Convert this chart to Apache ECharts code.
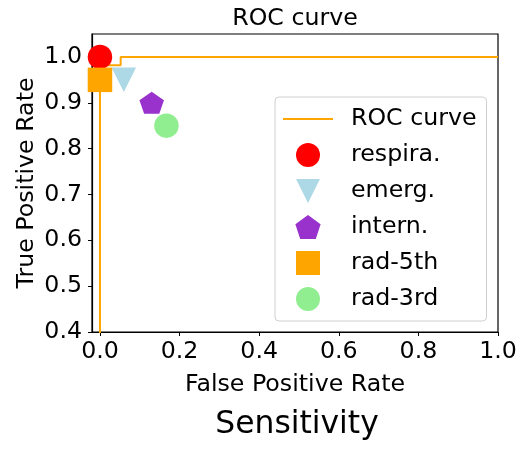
<!DOCTYPE html>
<html>
<head>
<meta charset="utf-8">
<script src="https://cdn.jsdelivr.net/npm/echarts@6/dist/echarts.min.js"></script>
<style>
html,body{margin:0;padding:0;background:#fff;}
#c{width:526px;height:451px;}
</style>
</head>
<body>
<div id="c"></div>
<script>
// ROC curve (step) points
const rocFpr = [0, 0, 0.052, 0.052, 1.0];
const rocTpr = [0, 0.982, 0.982, 1.0, 1.0];
// Reader operating points
const readerNames = ['respira.', 'emerg.', 'intern.', 'rad-5th', 'rad-3rd'];
const readerFpr = [0.0, 0.06, 0.13, 0.0, 0.167];
const readerTpr = [1.0, 0.95, 0.90, 0.95, 0.85];
// Tick labels
const xTicks = [0.0, 0.2, 0.4, 0.6, 0.8, 1.0];
const yTicks = [0.4, 0.5, 0.6, 0.7, 0.8, 0.9, 1.0];

const FONT = 'DejaVu Sans';
const FS = 23.7;
const pentagon = 'path://M0,-1 L0.951,-0.309 L0.588,0.809 L-0.588,0.809 L-0.951,-0.309 Z';
const triDown = 'path://M0,0 L2,0 L1,2 Z';
const square = 'path://M0,0 L1,0 L1,1 L0,1 Z';
const lineIcon = 'path://M0,0 L50,0 L50,2 L0,2 Z';
const readerStyles = [
  {symbol: 'circle', size: 24.5, color: '#ff0000'},
  {symbol: triDown, size: 24.5, color: '#add8e6'},
  {symbol: pentagon, size: [24.5, 23.3], color: '#9932cc'},
  {symbol: square, size: 24.5, color: '#ffa500'},
  {symbol: 'circle', size: 24.5, color: '#90ee90'}
];

const series = [{
  name: 'ROC curve',
  type: 'line',
  data: rocFpr.map((x, i) => [x, rocTpr[i]]),
  symbol: 'none',
  lineStyle: {color: '#ffa500', width: 2},
  itemStyle: {color: '#ffa500'},
  clip: true,
  z: 2
}];
readerNames.forEach((n, i) => {
  const s = readerStyles[i];
  series.push({
    name: n,
    type: 'scatter',
    data: [[readerFpr[i], readerTpr[i]]],
    symbol: s.symbol,
    symbolSize: s.size,
    symbolKeepAspect: true,
    itemStyle: {color: s.color, opacity: 1},
    clip: true,
    z: 3 + i
  });
});

const legendData = [{name: 'ROC curve', icon: lineIcon}].concat(readerNames.map(n => ({name: n})));

const chart = echarts.init(document.getElementById('c'), null, {renderer: 'canvas'});
chart.setOption({
  animation: false,
  backgroundColor: '#fff',
  textStyle: {fontFamily: FONT},
  grid: {left: 92, right: 28, top: 34, bottom: 119, show: true, borderColor: '#000', borderWidth: 1.2, backgroundColor: 'transparent'},
  xAxis: {
    type: 'value', min: -0.02, max: 1.0,
    name: 'False Positive Rate', nameLocation: 'middle', nameGap: 41,
    nameTextStyle: {fontSize: FS, color: '#000', fontFamily: FONT},
    axisLine: {show: true, onZero: false, lineStyle: {color: '#000', width: 1.2}},
    axisTick: {show: true, length: 4, customValues: xTicks, lineStyle: {color: '#000', width: 1}},
    axisLabel: {customValues: xTicks, fontSize: FS, color: '#000', fontFamily: FONT, margin: 8, formatter: v => v.toFixed(1)},
    splitLine: {show: false}
  },
  yAxis: {
    type: 'value', min: 0.4, max: 1.05,
    axisLine: {show: true, onZero: false, lineStyle: {color: '#000', width: 1.2}},
    axisTick: {show: true, length: 4, customValues: yTicks, lineStyle: {color: '#000', width: 1}},
    axisLabel: {customValues: yTicks, fontSize: FS, color: '#000', fontFamily: FONT, margin: 10, formatter: v => v.toFixed(1)},
    splitLine: {show: false}
  },
  legend: {
    left: 275, top: 97,
    orient: 'vertical',
    data: legendData,
    itemWidth: 50, itemHeight: 24, itemGap: 12,
    padding: [10, 10, 10, 8],
    backgroundColor: 'rgba(255,255,255,0.8)',
    borderColor: '#d0d0d0', borderWidth: 1, borderRadius: 4,
    selectedMode: false,
    textStyle: {fontSize: FS, color: '#000', fontFamily: FONT, padding: [0, 0, 0, 13]}
  },
  graphic: [
    {type: 'text', x: 295, y: 19, style: {text: 'ROC curve', font: FS + 'px "DejaVu Sans"', fill: '#000', textAlign: 'center', textVerticalAlign: 'middle'}},
    {type: 'text', x: 27, y: 183, rotation: Math.PI / 2, style: {text: 'True Positive Rate', font: FS + 'px "DejaVu Sans"', fill: '#000', textAlign: 'center', textVerticalAlign: 'middle'}},
    {type: 'text', x: 297, y: 425, style: {text: 'Sensitivity', font: '31.4px "DejaVu Sans"', fill: '#000', textAlign: 'center', textVerticalAlign: 'middle'}}
  ],
  series: series
});
</script>
</body>
</html>
